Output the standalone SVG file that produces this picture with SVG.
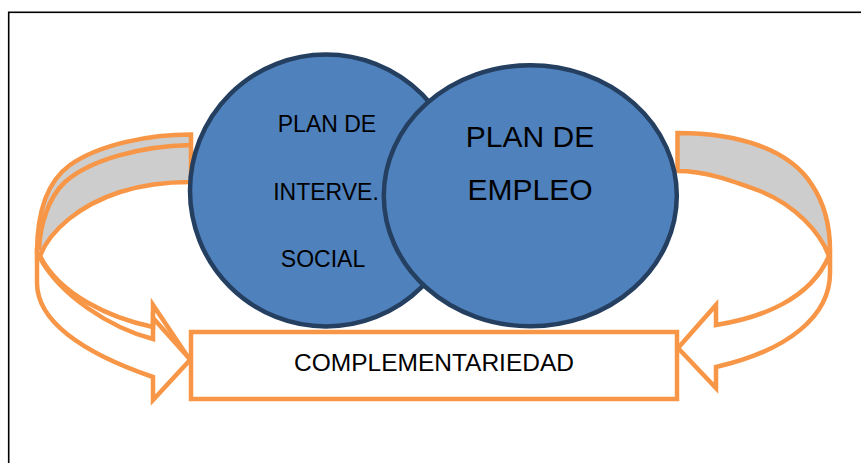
<svg xmlns="http://www.w3.org/2000/svg" width="861" height="463" viewBox="0 0 861 463">
<style>
.frame{fill:none;stroke:#000;stroke-width:1.6}
.band{fill:#CDCDCD;stroke:#F79646;stroke-width:4.5;stroke-linejoin:miter}
.body{fill:#FFFFFF;stroke:#F79646;stroke-width:4.5;stroke-linejoin:miter}
.line{fill:none;stroke:#F79646;stroke-width:4.5;stroke-linejoin:miter}
.circ{fill:#4F81BD;stroke:#243F60;stroke-width:4.5}
.box{fill:#FFFFFF;stroke:#F79646;stroke-width:4.5}
text{font-family:"Liberation Sans",Arial,sans-serif;fill:#000;text-anchor:middle}
.t23{font-size:23px}
.t30{font-size:30px}
.t24{font-size:24.5px}
</style>
<rect class="frame" x="8.7" y="12.3" width="900" height="500"/>
<g id="connectors">
  <g id="arrow-left">
    <path class="band" d="M191,134.5 C150,134.5 100,144 70,165 C45,183 37,215 37,253 L40,256 C50,230 80,205 120,192 C145,184 170,182 191,182 Z"/>
    <path class="body" d="M37,253 L37,283 C37,320 80,352 153,377 L153,400 L190,360 L153,305 L153,327 C110,318 60,295 40,256 Z"/>
    <path class="line" d="M191,145 C140,146 90,160 65,182 C48,198 40,225 39,250"/>
    <path class="line" d="M40,258 C60,295 110,328 153,339 L153,318 L188,357"/>
  </g>
  <g id="arrow-right">
    <path class="band" d="M677.5,133 C740,133 790,150 812,185 C824,203 830,225 830,250 L829,256 C820,232 795,205 760,191 C730,180 705,171 677.5,171 Z"/>
    <path class="body" d="M830,250 L830,273 C830,315 790,350 716,367 L716,388 L678,348 L716,305 L716,325 C760,318 810,300 829,256 Z"/>
  </g>
</g>
<g id="node-interv">
  <circle class="circ" cx="326" cy="190.5" r="136"/>
  <text class="t23" x="327" y="132">PLAN DE</text>
  <text class="t23" x="326" y="200">INTERVE.</text>
  <text class="t23" x="323" y="267">SOCIAL</text>
</g>
<g id="node-empleo">
  <ellipse class="circ" cx="530.3" cy="195.7" rx="146.5" ry="130.5"/>
  <text class="t30" x="530" y="147">PLAN DE</text>
  <text class="t30" x="530" y="199.5">EMPLEO</text>
</g>
<g id="node-complementariedad">
  <rect class="box" x="191" y="332" width="486" height="67"/>
  <text class="t24" x="434" y="371">COMPLEMENTARIEDAD</text>
</g>
</svg>
